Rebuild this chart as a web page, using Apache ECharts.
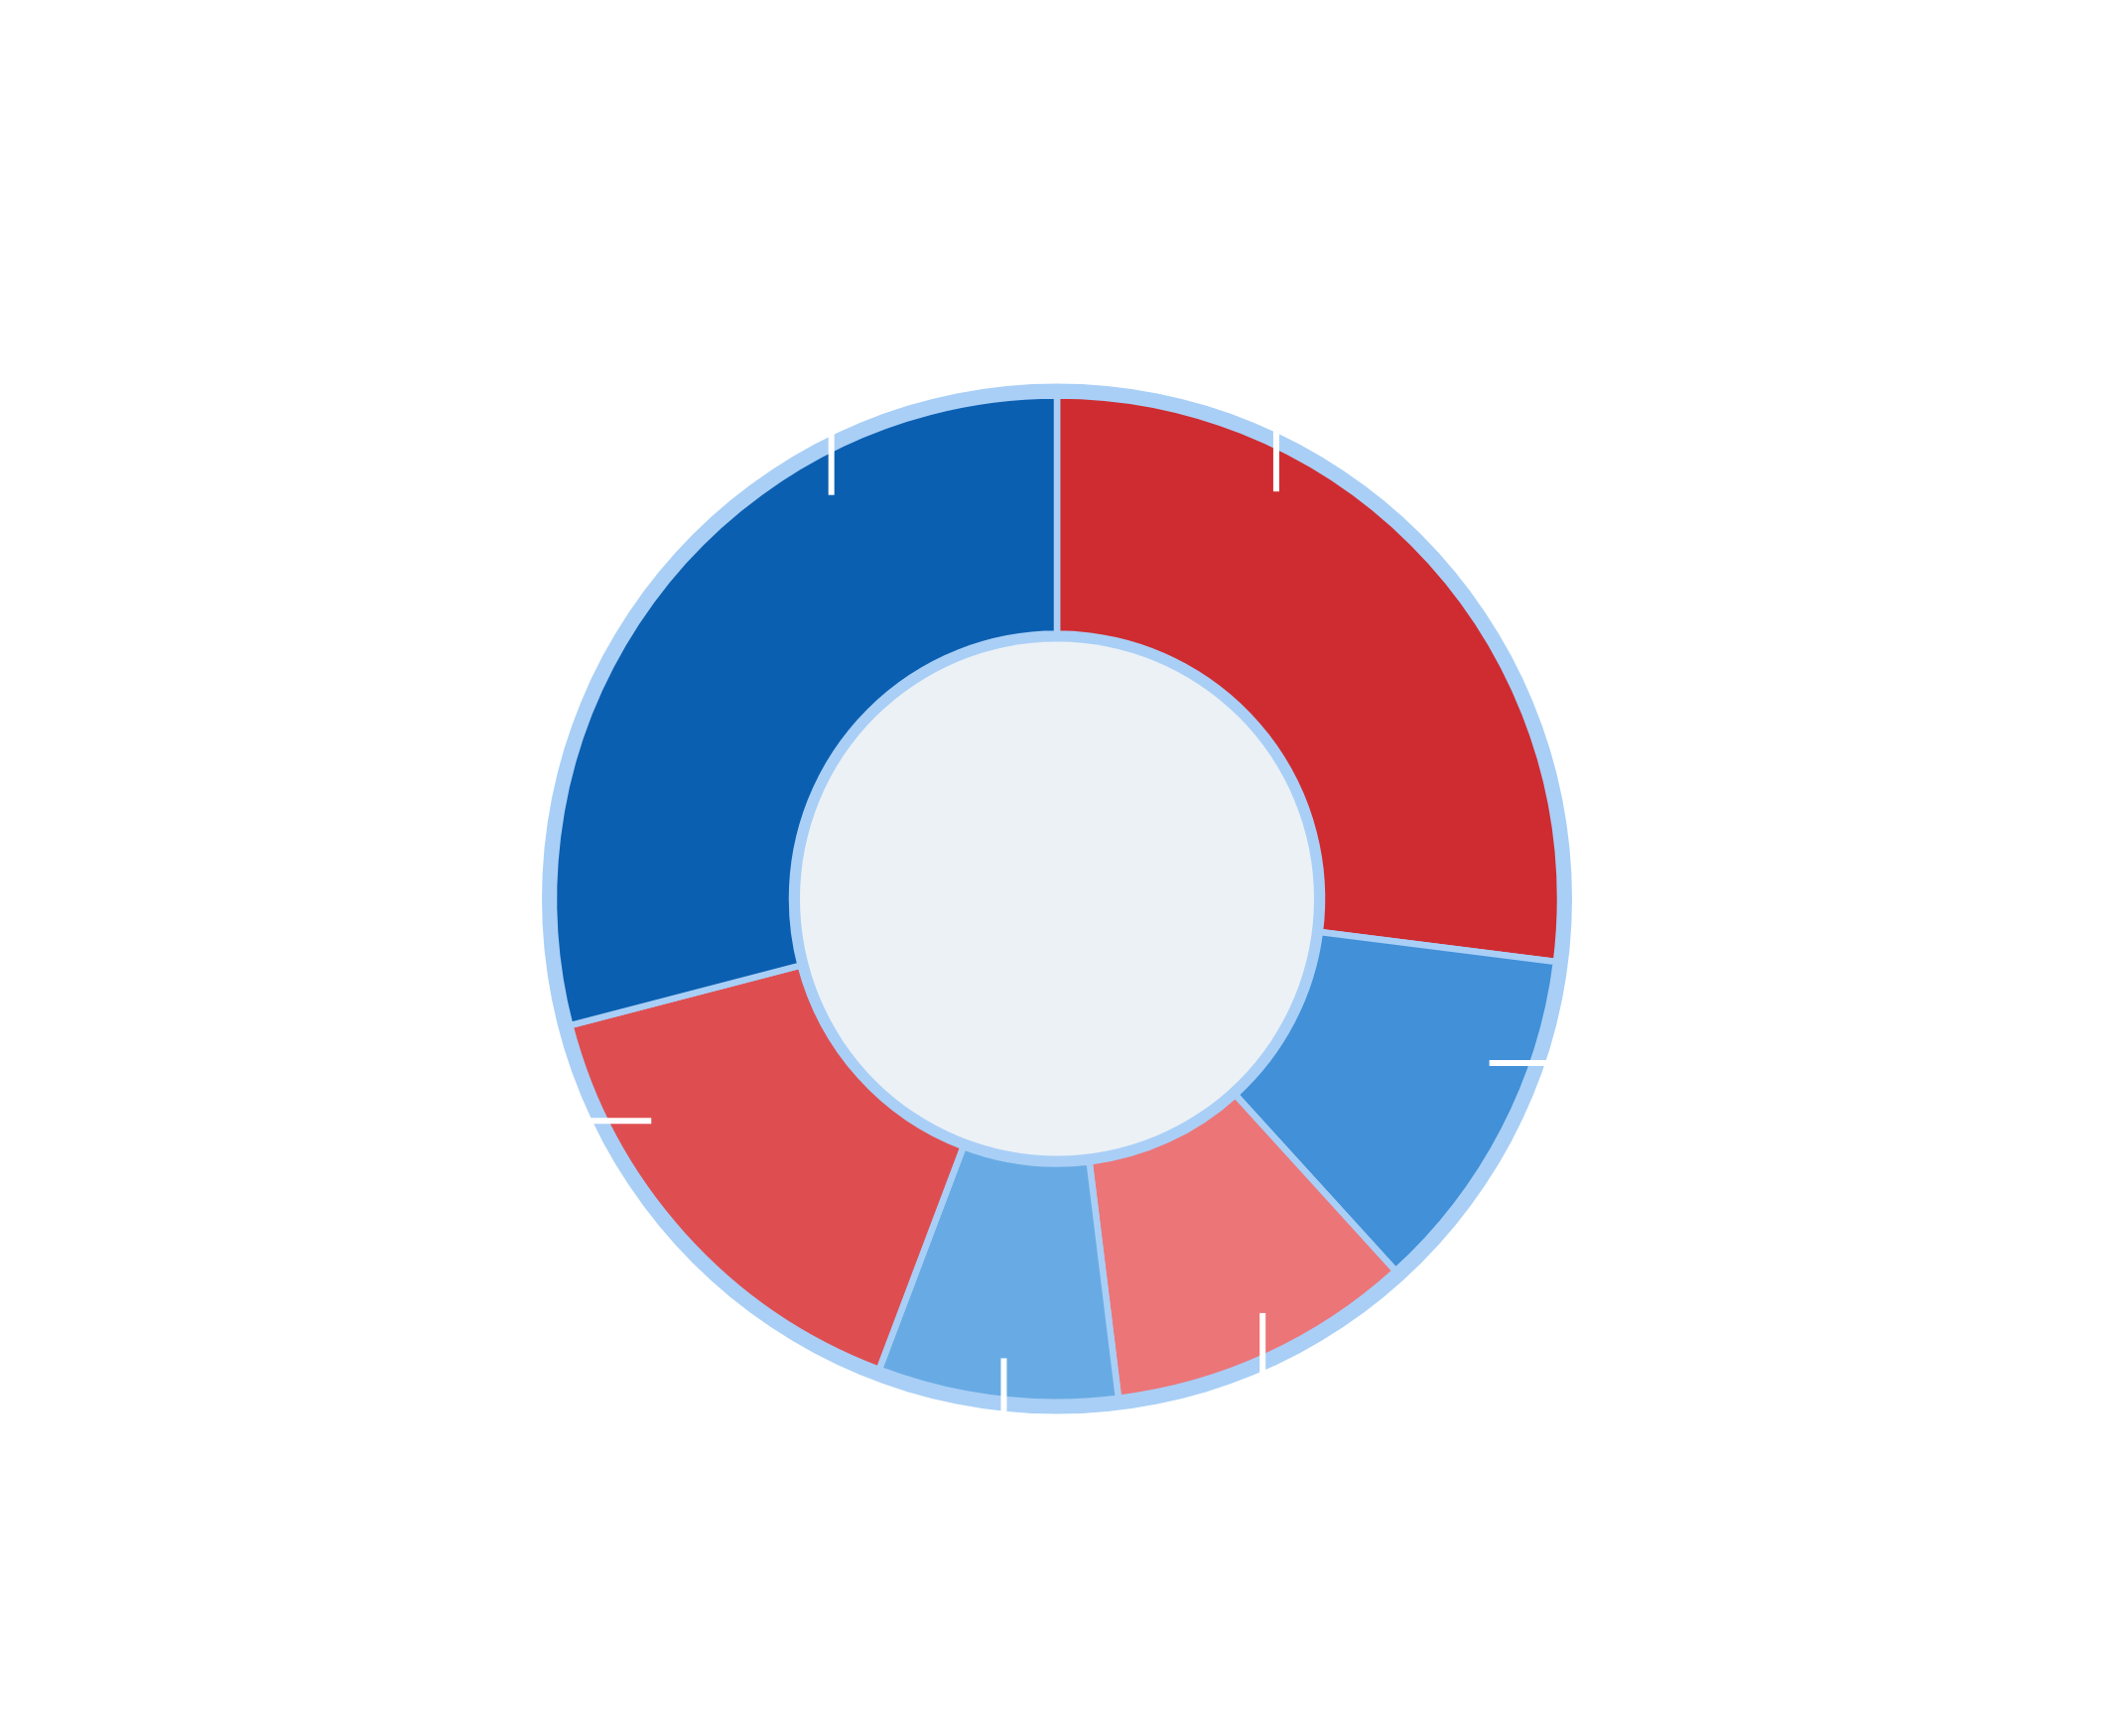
<!DOCTYPE html>
<html>
<head>
<meta charset="utf-8">
<title>Donut</title>
<script src="https://cdn.jsdelivr.net/npm/echarts@6/dist/echarts.min.js"></script>
<style>
    html, body { margin: 0; padding: 0; background: #ffffff; }
    #main { width: 2127px; height: 1749px; }
</style>
</head>
<body>
<div id="main"></div>
<script>
// data (share of the ring, clockwise from 12 o'clock)
var categories = ['S1', 'S2', 'S3', 'S4', 'S5', 'S6'];
var values = [27.0, 11.25, 9.8, 7.7, 15.2, 29.05];
var colors = ['#cf2c31', '#4190d8', '#ec7578', '#68abe4', '#de4e51', '#0b5fb1'];

// where the white leader ticks sit (deg clockwise from top) and which way they run
var tickAngles = [28.3, 110.8, 153.6, 186.6, 241.3, 330.8];
var tickDirs = ['v', 'h', 'v', 'v', 'h', 'v'];

var cx = 1065, cy = 905.5;
var ringInner = 267, ringOuter = 507;
var tickStart = 466;

var chart = echarts.init(document.getElementById('main'));

function sliceData(colorFn) {
    return categories.map(function (name, i) {
        return { name: name, value: values[i], itemStyle: { color: colorFn(i) } };
    });
}

var option = {
    backgroundColor: '#ffffff',
    animation: false,
    series: [
        {
            // light blue disc behind everything (outer band + inner rim)
            type: 'pie',
            z: 1,
            silent: true,
            center: [cx, cy],
            radius: [0, 519],
            label: { show: false },
            labelLine: { show: false },
            itemStyle: { color: '#a9cff6' },
            data: [{ value: 1, name: 'bg' }]
        },
        {
            type: 'pie',
            z: 2,
            center: [cx, cy],
            radius: [ringInner, ringOuter],
            startAngle: 90,
            clockwise: true,
            itemStyle: {
                borderColor: '#a9cff6',
                borderWidth: 6.5
            },
            label: { show: false },
            labelLine: { show: false },
            data: sliceData(function (i) { return colors[i]; })
        },
        {
            // pale centre
            type: 'pie',
            z: 3,
            silent: true,
            center: [cx, cy],
            radius: [0, 259],
            label: { show: false },
            labelLine: { show: false },
            itemStyle: { color: '#ecf1f6' },
            data: [{ value: 1, name: 'centre' }]
        },
        {
            // same slices again, see-through, only carrying the white leader lines on top
            type: 'pie',
            z: 4,
            silent: true,
            center: [cx, cy],
            radius: [ringInner, ringOuter],
            startAngle: 90,
            clockwise: true,
            avoidLabelOverlap: false,
            itemStyle: { borderWidth: 0 },
            label: {
                show: true,
                position: 'outside',
                formatter: '',
                color: '#ffffff'
            },
            labelLine: {
                show: true,
                length: 20,
                length2: 20,
                lineStyle: { color: '#ffffff', width: 6 }
            },
            labelLayout: function (params) {
                var i = params.dataIndex;
                var a = tickAngles[i] * Math.PI / 180;
                var sx = cx + tickStart * Math.sin(a);
                var sy = cy - tickStart * Math.cos(a);
                var ex = sx, ey = sy;
                if (tickDirs[i] === 'h') {
                    ex = sx + (Math.sin(a) > 0 ? 1 : -1) * 90;
                } else {
                    ey = sy + (Math.cos(a) > 0 ? -1 : 1) * 90;
                }
                return {
                    x: ex,
                    y: ey,
                    labelLinePoints: [[sx, sy], [ex, ey], [ex, ey]]
                };
            },
            data: sliceData(function () { return 'rgba(0,0,0,0)'; })
        }
    ]
};

chart.setOption(option);
</script>
</body>
</html>
